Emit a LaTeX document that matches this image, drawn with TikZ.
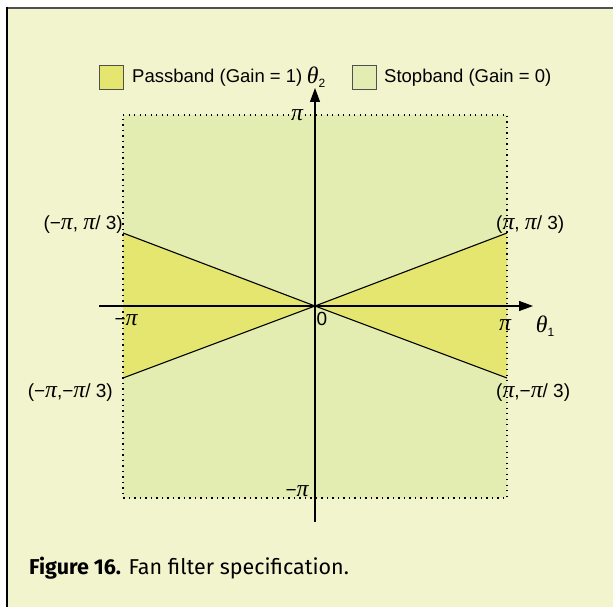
\documentclass[tikz,border=0pt]{standalone}
\usepackage{fontspec}
\setmainfont{Liberation Sans}
\newfontfamily\capfont{Fira Sans}
\newfontfamily\serifit{Liberation Serif}[Scale=1.25]
\newcommand\gpi{{\serifit\itshape π}}
\newcommand\gth{{\serifit\itshape θ}}
\usetikzlibrary{arrows.meta}
\definecolor{bgc}{RGB}{242,244,206}
\definecolor{stopc}{RGB}{227,236,177}
\definecolor{passc}{RGB}{228,230,111}
\definecolor{framec}{RGB}{80,80,80}
\begin{document}
\begin{tikzpicture}[x=1pt,y=-1pt,
  lbl/.style={inner sep=0pt, font=\fontsize{19}{21}\selectfont},
  legtext/.style={inner sep=0pt, font=\fontsize{18.5}{21}\selectfont},
  tick/.style={inner sep=0pt, font=\fontsize{19}{21}\selectfont},
  legbox/.style={draw=framec, line width=1pt, minimum width=24pt, minimum height=24pt, inner sep=0pt},
  axis/.style={line width=1.1pt, -{Triangle[length=14pt,width=10pt]}},
  fanline/.style={line width=1.1pt},
  dotline/.style={line width=1.3pt, dash pattern=on 1.3pt off 4.2pt}]
\useasboundingbox (0,0) rectangle (613,607);
\fill[white] (0,0) rectangle (613,607);
\fill[bgc] (7,8) rectangle (613,607);
\draw[line width=2pt, framec] (6,8) -- (613,8);
\draw[line width=1.6pt, black] (7,7) -- (7,607);
% stopband square
\fill[stopc] (123,115) rectangle (507,498);
% fan corners
\coordinate (O) at (315,306);
\coordinate (LT) at (123,233);
\coordinate (LB) at (123,378);
\coordinate (RT) at (507,233);
\coordinate (RB) at (507,378);
\fill[passc] (O) -- (LT) -- (LB) -- cycle;
\fill[passc] (O) -- (RT) -- (RB) -- cycle;
\draw[dotline] (123,115) -- (507,115) -- (507,498) -- (123,498) -- cycle;
\draw[fanline] (LT) -- (O) -- (RB);
\draw[fanline] (LB) -- (O) -- (RT);
% axes
\coordinate (XS) at (99,306);
\coordinate (XE) at (533,306);
\coordinate (YS) at (315,522);
\coordinate (YE) at (315,88);
\draw[axis] (XS) -- (XE);
\draw[axis] (YS) -- (YE);
% axis labels
\node[lbl] (th1) at (545,326) {\gth\raisebox{-4pt}{\fontsize{12}{12}\selectfont 1}};
\node[lbl] (th2) at (316,77) {\gth\raisebox{-4pt}{\fontsize{12}{12}\selectfont 2}};
\node[tick] (tpi) at (297,115) {\gpi};
\node[tick] (bpi) at (297,491) {−\gpi};
\node[tick] (lpi) at (126,320) {−\gpi};
\node[tick] (rpi) at (505,325) {\gpi};
\node[tick] (zero) at (322,319) {0};
% corner labels
\node[lbl, anchor=east] (lt) at (123,225) {(−\gpi, \gpi/ 3)};
\node[lbl, anchor=east] (lb) at (113,393) {(−\gpi,−\gpi/ 3)};
\node[lbl, anchor=west] (rt) at (496,225) {(\gpi, \gpi/ 3)};
\node[lbl, anchor=west] (rb) at (496,393) {(\gpi,−\gpi/ 3)};
% legend
\node[legbox, fill=passc] (pbox) at (111,78) {};
\node[legtext, anchor=west] (ptext) at (132,78) {Passband (Gain = 1)};
\node[legbox, fill=stopc] (sbox) at (364,78) {};
\node[legtext, anchor=west] (stext) at (384,78) {Stopband (Gain = 0)};
% caption
\node[inner sep=0pt, anchor=base west, font=\capfont\fontsize{21.5}{23}\selectfont] (cap) at (29,574) {\textbf{Figure 16.} Fan filter specification.};
\end{tikzpicture}
\end{document}
